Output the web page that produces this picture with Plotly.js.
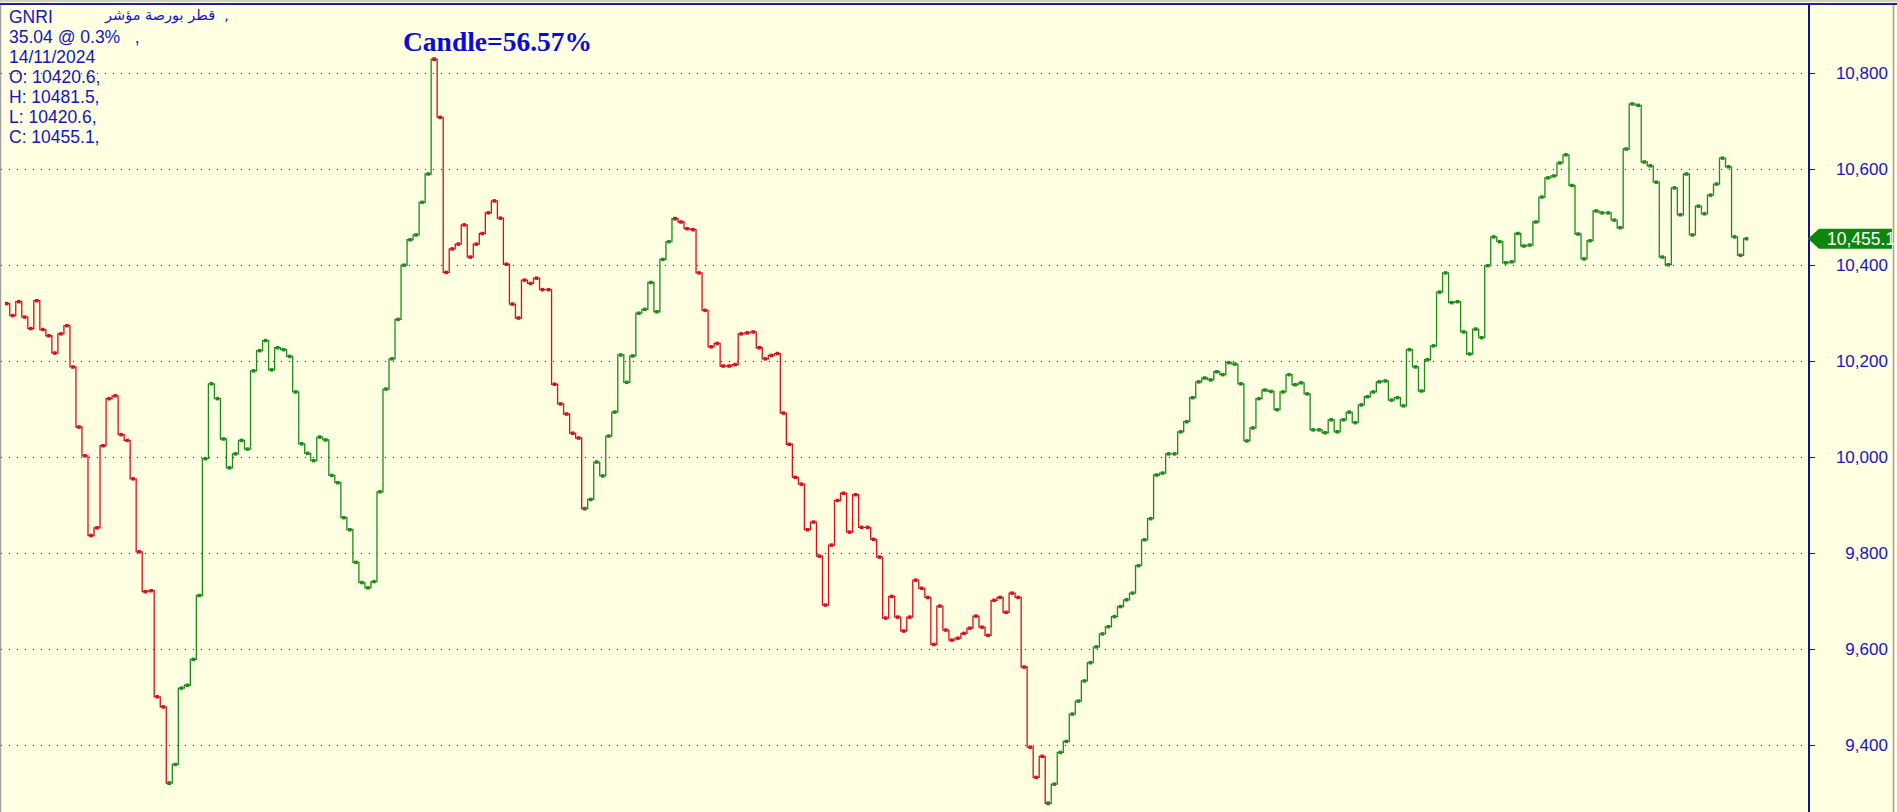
<!DOCTYPE html>
<html>
<head>
<meta charset="utf-8">
<script src="https://cdn.plot.ly/plotly-3.0.1.min.js"></script>
<style>
  html, body { margin: 0; padding: 0; background: #FFFFE1; }
  #chart { width: 1897px; height: 812px; }
</style>
</head>
<body>
<div id="chart"></div>
<script>
// ---- data (closing values, one per bar) ----
const closeValues = [
  10320, 10295, 10324, 10292, 10268, 10326, 10266, 10253, 10217, 10257,
  10274, 10188, 10063, 10003, 9837, 9853, 10024, 10122, 10128, 10047,
  10035, 9955, 9803, 9720, 9722, 9501, 9480, 9321, 9360, 9519,
  9525, 9579, 9712, 9997, 10153, 10122, 10038, 9978, 10007, 10035,
  10017, 10180, 10222, 10243, 10182, 10228, 10224, 10210, 10136, 10028,
  10008, 9993, 10042, 10036, 9962, 9947, 9874, 9849, 9781, 9739,
  9728, 9741, 9928, 10142, 10205, 10287, 10400, 10453, 10463, 10531,
  10590, 10829, 10708, 10385, 10434, 10444, 10484, 10417, 10444, 10466,
  10509, 10534, 10498, 10402, 10319, 10290, 10369, 10362, 10373, 10349,
  10349, 10152, 10111, 10090, 10050, 10040, 9893, 9912, 9990, 9961,
  10044, 10094, 10213, 10156, 10211, 10300, 10308, 10364, 10303, 10412,
  10449, 10497, 10490, 10476, 10474, 10384, 10306, 10230, 10237, 10190,
  10190, 10193, 10257, 10259, 10261, 10228, 10205, 10212, 10216, 10092,
  10027, 9958, 9944, 9849, 9865, 9794, 9692, 9817, 9910, 9925,
  9844, 9922, 9854, 9854, 9829, 9792, 9665, 9710, 9667, 9638,
  9667, 9744, 9727, 9708, 9610, 9690, 9640, 9619, 9623, 9633,
  9644, 9669, 9646, 9629, 9702, 9708, 9677, 9717, 9708, 9563,
  9396, 9333, 9377, 9279, 9319, 9385, 9408, 9465, 9492, 9534,
  9572, 9605, 9632, 9647, 9668, 9689, 9703, 9717, 9774, 9828,
  9872, 9963, 9967, 10007, 10007, 10053, 10074, 10124, 10157, 10165,
  10161, 10178, 10172, 10197, 10194, 10153, 10034, 10061, 10122, 10140,
  10137, 10099, 10136, 10172, 10151, 10155, 10132, 10057, 10057, 10051,
  10078, 10053, 10078, 10094, 10072, 10109, 10126, 10136, 10157, 10159,
  10119, 10124, 10107, 10224, 10188, 10138, 10203, 10232, 10344, 10384,
  10322, 10324, 10261, 10215, 10267, 10249, 10399, 10459, 10449, 10405,
  10407, 10466, 10440, 10442, 10490, 10542, 10582, 10586, 10613, 10630,
  10566, 10465, 10413, 10451, 10513, 10509, 10509, 10494, 10478, 10642,
  10736, 10733, 10615, 10607, 10573, 10417, 10401, 10561, 10505, 10590,
  10463, 10523, 10507, 10546, 10569, 10623, 10605, 10459, 10420.6, 10455.1
];

// zig-zag turning points (bar index) and the colour of each leg between them
const pivotIndex = [0, 27, 71, 96, 111, 173, 289];
const legColors  = ['#DA0F1E', '#1E8A1E', '#DA0F1E', '#1E8A1E', '#DA0F1E', '#1E8A1E'];

// right-hand price axis
const tickValues = [9400, 9600, 9800, 10000, 10200, 10400, 10600, 10800];
const tickLabels = ['\u20079,400', '\u20079,600', '\u20079,800', '10,000', '10,200', '10,400', '10,600', '10,800'];

// header text (top-left)
const headerLines = ['GNRI', '35.04 @ 0.3%\u00A0\u00A0\u00A0,', '14/11/2024',
                     'O: 10420.6,', 'H: 10481.5,', 'L: 10420.6,', 'C: 10455.1,'];
const headerArabic = 'قطر بورصة مؤشر\u00A0\u00A0,';
const chartTitle = 'Candle=56.57%';

// ---- build traces ----
const barIndex = closeValues.map((_, i) => i);
const traces = [];
for (let k = 0; k < legColors.length; k++) {
  const a = pivotIndex[k], b = pivotIndex[k + 1];
  traces.push({
    type: 'scatter',
    mode: 'lines+markers',
    x: barIndex.slice(a, b + 1),
    y: closeValues.slice(a, b + 1),
    line: { shape: 'hvh', color: legColors[k], width: 1.3 },
    marker: { symbol: 'square', size: 3.5, color: legColors[k] },
    hoverinfo: 'y',
    showlegend: false
  });
}

// ---- geometry helpers (plot area is 1807 x 807 px) ----
const W = 1897, H = 812;
const M = { l: 1, r: 89, t: 5, b: 0 };
const PW = W - M.l - M.r, PH = H - M.t - M.b;
const yRange = [9261, 10942];
const pxPerUnit = PH / (yRange[1] - yRange[0]);
const px2paperX = px => (px - M.l) / PW;
const px2paperY = py => 1 - (py - M.t) / PH;

const lastValue = closeValues[closeValues.length - 1];
const lastLabel = lastValue.toLocaleString('en-US', { minimumFractionDigits: 1, maximumFractionDigits: 1 });
const halfTag = 10 / pxPerUnit;

const annotations = [];
const txtBlue = '#1414C8';
headerLines.forEach((t, i) => {
  annotations.push({
    xref: 'paper', yref: 'paper', x: px2paperX(7), y: 1, xanchor: 'left', yanchor: 'middle',
    yshift: -(16.5 + 20.1 * i - M.t), text: t, showarrow: false,
    font: { family: 'Liberation Sans, Arial, sans-serif', size: 17.5, color: txtBlue }
  });
});
annotations.push({
  xref: 'paper', yref: 'paper', x: px2paperX(102), y: 1, xanchor: 'left', yanchor: 'middle',
  yshift: -(15.5 - M.t), text: headerArabic, showarrow: false,
  font: { family: 'DejaVu Sans, Liberation Sans, sans-serif', size: 14.5, color: txtBlue }
});
annotations.push({
  xref: 'paper', yref: 'paper', x: px2paperX(497), y: 1, xanchor: 'center', yanchor: 'middle',
  yshift: -(41.5 - M.t), text: '<b>' + chartTitle + '</b>', showarrow: false,
  font: { family: 'Liberation Serif, Times New Roman, serif', size: 27.5, color: '#0A0ADC' }
});
annotations.push({
  xref: 'paper', yref: 'y', x: px2paperX(1825), y: lastValue, xanchor: 'left', yanchor: 'middle',
  text: lastLabel, showarrow: false,
  font: { family: 'Liberation Sans, Arial, sans-serif', size: 17.5, color: '#FFFFFF' }
});

const shapes = [
  // price tag (arrow pointing at the axis)
  {
    type: 'path', xref: 'paper', yref: 'y', layer: 'above',
    path: `M ${px2paperX(1808)} ${lastValue} L ${px2paperX(1819)} ${lastValue + halfTag} ` +
          `L ${px2paperX(1892)} ${lastValue + halfTag} L ${px2paperX(1892)} ${lastValue - halfTag} ` +
          `L ${px2paperX(1819)} ${lastValue - halfTag} Z`,
    fillcolor: '#0C870C', line: { width: 0 }
  },
  // frame lines
  { type: 'line', xref: 'paper', yref: 'paper', x0: px2paperX(0), x1: px2paperX(1897), y0: px2paperY(1), y1: px2paperY(1), line: { color: '#A0A0A0', width: 1 } },
  { type: 'line', xref: 'paper', yref: 'paper', x0: px2paperX(0), x1: px2paperX(1897), y0: px2paperY(4), y1: px2paperY(4), line: { color: '#2020B0', width: 2 } },
  { type: 'line', xref: 'paper', yref: 'paper', x0: px2paperX(0.5), x1: px2paperX(0.5), y0: 0, y1: px2paperY(5), line: { color: '#A0A0A0', width: 1.5 } },
  { type: 'line', xref: 'paper', yref: 'paper', x0: px2paperX(1893.5), x1: px2paperX(1893.5), y0: 0, y1: px2paperY(5), line: { color: '#A0A0A0', width: 1.5 } }
];

const layout = {
  width: W, height: H,
  margin: { l: M.l, r: M.r, t: M.t, b: M.b, pad: 0 },
  paper_bgcolor: '#FFFFE1',
  plot_bgcolor: '#FFFFE1',
  showlegend: false,
  xaxis: {
    range: [-0.95, 299.2], showgrid: false, zeroline: false, showticklabels: false,
    showline: false, ticks: '', fixedrange: true
  },
  yaxis: {
    side: 'right', range: yRange, tickmode: 'array', tickvals: tickValues, ticktext: tickLabels,
    showgrid: true, gridcolor: '#202020', gridwidth: 1, griddash: '1px,7px',
    ticks: 'outside', ticklen: 5, tickcolor: '#202020', tickwidth: 1,
    showline: true, linecolor: '#1010A0', linewidth: 1.5,
    zeroline: false, ticklabelstandoff: 18,
    tickfont: { family: 'Liberation Sans, Arial, sans-serif', size: 17, color: txtBlue },
    fixedrange: true
  },
  annotations: annotations,
  shapes: shapes
};

Plotly.newPlot('chart', traces, layout, { displayModeBar: false, staticPlot: true });
</script>
</body>
</html>
